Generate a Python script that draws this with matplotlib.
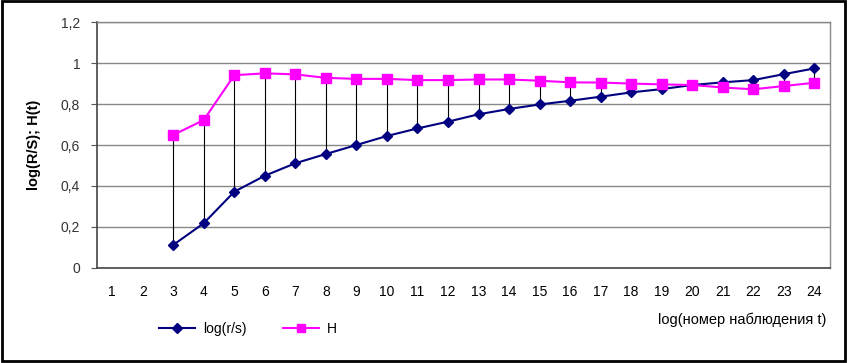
import matplotlib
matplotlib.use('Agg')
import matplotlib.pyplot as plt
from matplotlib.patches import Rectangle

# data
t = list(range(1, 25))
t_data = list(range(3, 25))
log_rs = [0.112, 0.218, 0.372, 0.450, 0.511, 0.556, 0.600, 0.644, 0.681, 0.714,
          0.750, 0.776, 0.798, 0.816, 0.836, 0.857, 0.873, 0.893, 0.906, 0.917,
          0.946, 0.974]
H = [0.649, 0.722, 0.941, 0.950, 0.945, 0.928, 0.923, 0.923, 0.917, 0.917,
     0.920, 0.920, 0.914, 0.906, 0.905, 0.900, 0.896, 0.893, 0.881, 0.872,
     0.888, 0.904]
y_ticks = [0, 0.2, 0.4, 0.6, 0.8, 1.0, 1.2]
y_tick_labels = ['0', '0,2', '0,4', '0,6', '0,8', '1', '1,2']

plt.rcParams['font.family'] = ['Liberation Sans', 'DejaVu Sans']

fig = plt.figure(figsize=(8.5, 3.63), dpi=100)
ax = fig.add_axes([0.114, 0.262, 0.862, 0.677])

# high-low lines between the two series
ax.vlines(t_data, log_rs, H, color='black', linewidth=0.8, zorder=2)
ax.plot(t_data, log_rs, color='#000080', marker='D', markersize=5.5,
        linewidth=1.5, label='log(r/s)', zorder=3)
ax.plot(t_data, H, color='#FF00FF', marker='s', markersize=7,
        linewidth=1.5, label='H', zorder=3)

ax.set_xlim(0.5, 24.5)
ax.set_ylim(0, 1.2)
ax.set_xticks(t)
ax.set_xticklabels([str(v) for v in t], fontsize=10)
ax.set_yticks(y_ticks)
ax.set_yticklabels(y_tick_labels, fontsize=10, color='#333333')
ax.tick_params(axis='x', length=0, pad=12)
ax.tick_params(axis='y', length=4, color='#555555', pad=8)
ax.grid(axis='y', color='#888888', linewidth=1.0)
ax.set_axisbelow(True)
for s in ['top', 'right']:
    ax.spines[s].set_color('#888888')
    ax.spines[s].set_linewidth(1.0)
for s in ['left', 'bottom']:
    ax.spines[s].set_color('#444444')
    ax.spines[s].set_linewidth(1.2)

ax.set_ylabel('log(R/S); H(t)', fontsize=10.5, fontweight='bold', labelpad=14)
fig.text(0.972, 0.118, 'log(номер наблюдения t)', ha='right', va='center', fontsize=10.5)

leg = fig.legend(loc='center left', bbox_to_anchor=(0.172, 0.095), ncol=2, frameon=False,
                 fontsize=10, handlelength=2.6, columnspacing=2.6, handletextpad=0.6)
leg.legend_handles[1].set_markersize(6)

# outer frame
fig.patches.append(Rectangle((0.002, 0.006), 0.992, 0.99, transform=fig.transFigure,
                             fill=False, edgecolor='black', linewidth=2))

fig.savefig('out.png', dpi=100)
